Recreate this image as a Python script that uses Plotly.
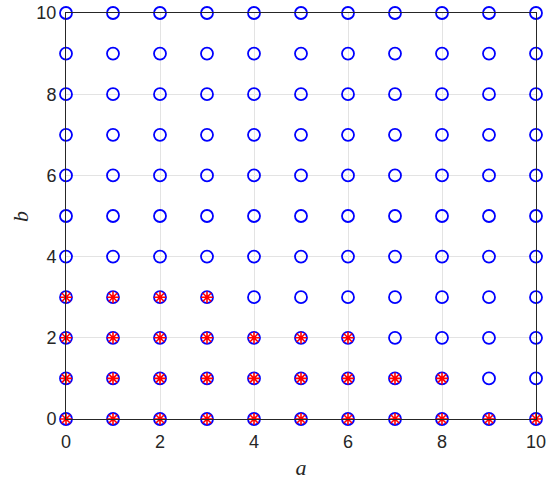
import plotly.graph_objects as go

a_vals = list(range(0, 11))
b_vals = list(range(0, 11))
# red rows: b value -> max a marked
red_rows_b = [0, 1, 2, 3]
red_rows_amax = [10, 8, 6, 3]
tick_vals = [0, 2, 4, 6, 8, 10]

grid_a = [a for b in b_vals for a in a_vals]
grid_b = [b for b in b_vals for a in a_vals]
red_a = [a for b, m in zip(red_rows_b, red_rows_amax) for a in range(0, m + 1)]
red_b = [b for b, m in zip(red_rows_b, red_rows_amax) for a in range(0, m + 1)]

fig = go.Figure()
fig.add_trace(go.Scatter(x=grid_a, y=grid_b, mode="markers", cliponaxis=False,
                         marker=dict(symbol="circle-open", size=12, color="#0000ff",
                                     line=dict(width=1.8, color="#0000ff")),
                         showlegend=False))
fig.add_trace(go.Scatter(x=red_a, y=red_b, mode="markers", cliponaxis=False,
                         marker=dict(symbol="asterisk-open", size=10, color="#ff0000",
                                     line=dict(width=1.6, color="#ff0000")),
                         showlegend=False))

tick_font = dict(size=18, color="#262626", family="Liberation Sans, Arial, sans-serif")
title_font = dict(size=22, family="Liberation Serif, serif", color="#262626")
axis_common = dict(range=[0, 10], tickvals=tick_vals, showgrid=True, gridcolor="#e3e3e3",
                   gridwidth=1, zeroline=False, showline=True, linecolor="#262626",
                   linewidth=1, mirror=True, ticks="", tickfont=tick_font)
fig.update_xaxes(**axis_common, ticklabelstandoff=6,
                 title=dict(text="<i>a</i>", standoff=10, font=title_font))
fig.update_yaxes(**axis_common, ticklabelstandoff=5)

fig.add_annotation(text="<i>b</i>", xref="paper", yref="paper", x=-0.098, y=0.5,
                   xanchor="center", yanchor="middle", textangle=-90, showarrow=False,
                   font=title_font)

fig.update_layout(width=550, height=480, plot_bgcolor="white", paper_bgcolor="white",
                  margin=dict(l=66, r=14, t=13, b=61, autoexpand=False))
fig.write_html("out.html", config={"displayModeBar": False},
               post_script="document.body.style.margin='0';document.body.style.overflow='hidden';")
